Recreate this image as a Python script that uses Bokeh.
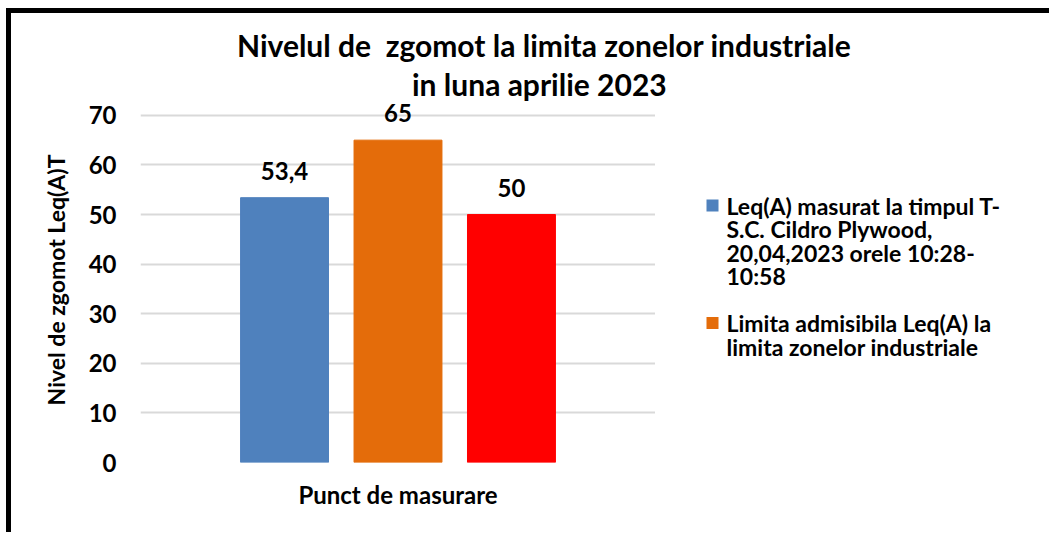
from bokeh.plotting import figure
from bokeh.layouts import row, column
from bokeh.models import FactorRange, Range1d, ColumnDataSource, LabelSet, Div
from bokeh.core.properties import value
from bokeh.embed import file_html
from bokeh.resources import INLINE

categories = ["Leq(A) masurat", "Limita admisibila", "Limita"]
values = [53.4, 65, 50]
value_labels = ["53,4", "65", "50"]
colors = ["#4F81BD", "#E46C0A", "#FF0000"]
legend_lines = [
    ["Leq(A)  masurat la timpul T-", "S.C. Cildro Plywood,", "20,04,2023 orele 10:28-", "10:58"],
    ["Limita admisibila Leq(A)  la", "limita zonelor industriale"],
]
yticks = [0, 10, 20, 30, 40, 50, 60, 70]
title_lines = ["Nivelul de  zgomot la limita zonelor industriale", "in luna aprilie 2023"]
x_title = "Punct de masurare"
y_title = "Nivel de zgomot Leq(A)T"

FONT = "Lato"
W_MAIN, W_LEG, H_TITLE, H = 644, 394, 82, 437
FRAME_TOP, FRAME_BOTTOM = 97, 462   # page pixels of the plot frame

# ---- title (two lines) ----
title_div = Div(
    text=(f'<div style="white-space:pre;margin-left:226px;line-height:39px">{title_lines[0]}</div>'
          f'<div style="white-space:pre;margin-left:401px;line-height:39px">{title_lines[1]}</div>'),
    width=W_MAIN + W_LEG, height=H_TITLE, margin=0,
    styles={"font-family": FONT, "font-weight": "bold", "font-size": "30px",
            "color": "#000000", "padding-top": "13px", "box-sizing": "border-box",
            "overflow": "visible"})

# ---- main chart ----
p = figure(width=W_MAIN, height=H, output_backend="svg", toolbar_location=None,
           x_range=FactorRange(*categories, range_padding=0.513, range_padding_units="percent"),
           y_range=Range1d(0, 73.6), min_border_left=129, min_border_top=2,
           min_border_right=0, min_border_bottom=70)
p.outline_line_color = None
p.border_fill_color = None
p.background_fill_color = None

src = ColumnDataSource(dict(cat=categories, val=values, lab=value_labels, col=colors))
p.vbar(x="cat", top="val", width=0.775, color="col", source=src)

labels = LabelSet(x="cat", y="val", text="lab", source=src, y_offset=18,
                  text_align="center", text_baseline="alphabetic",
                  text_font=value(FONT), text_font_size="24px", text_font_style="bold",
                  text_color="#000000")
p.add_layout(labels)

p.yaxis.ticker = yticks
p.ygrid.ticker = yticks
p.ygrid.grid_line_color = "#D9D9D9"
p.ygrid.grid_line_width = 2
p.xgrid.grid_line_color = None
for ax in (p.xaxis[0], p.yaxis[0]):
    ax.axis_line_color = None
    ax.major_tick_line_color = None
    ax.minor_tick_line_color = None
p.yaxis.major_label_text_font = FONT
p.yaxis.major_label_text_font_size = "24px"
p.yaxis.major_label_text_font_style = "bold"
p.yaxis.major_label_text_color = "#000000"
p.yaxis.major_label_standoff = 18
p.yaxis.axis_label = y_title
p.yaxis.axis_label_text_font = FONT
p.yaxis.axis_label_text_font_size = "23px"
p.yaxis.axis_label_text_font_style = "bold"
p.yaxis.axis_label_text_color = "#000000"
p.yaxis.axis_label_standoff = 16

p.xaxis.major_label_text_font_size = "0px"
p.xaxis.major_label_text_alpha = 0
p.xaxis.major_label_standoff = 0
p.xaxis.axis_label = x_title
p.xaxis.axis_label_text_font = FONT
p.xaxis.axis_label_text_font_size = "24px"
p.xaxis.axis_label_text_font_style = "bold"
p.xaxis.axis_label_text_color = "#000000"
p.xaxis.axis_label_standoff = 11

# ---- legend panel (page-pixel coordinates, frame aligned with main frame) ----
lg = figure(width=W_LEG, height=H, output_backend="svg", toolbar_location=None,
            x_range=Range1d(655, 1049), y_range=Range1d(FRAME_BOTTOM, FRAME_TOP),
            min_border=0, outline_line_color=None)
lg.axis.visible = False
lg.grid.visible = False
lg.border_fill_color = None
lg.background_fill_color = None

ROW_H, Y0, SQ_X, TXT_X = 23.5, 205, 712, 726
sq_x, sq_y, sq_c, tx, ty, tt = [], [], [], [], [], []
row_i = 0
for k, lines in enumerate(legend_lines):
    if k > 0:
        row_i += 1
    for j, line in enumerate(lines):
        yy = Y0 + row_i * ROW_H
        if j == 0:
            sq_x.append(SQ_X); sq_y.append(yy); sq_c.append(colors[k])
        tx.append(TXT_X); ty.append(yy); tt.append(line)
        row_i += 1

lg.rect(x=sq_x, y=sq_y, width=12, height=12, fill_color=sq_c, line_color=None)
lg.text(x=tx, y=ty, text=tt, text_font=value(FONT), text_font_size="23px",
        text_font_style="bold", text_color="#000000", text_baseline="middle",
        text_align="left")

layout = column(title_div, row(p, lg),
                styles={"border-top": "5px solid black", "border-left": "5px solid black",
                        "margin-left": "6px", "margin-top": "8px"})

open("out.html", "w").write(file_html(layout, INLINE))
